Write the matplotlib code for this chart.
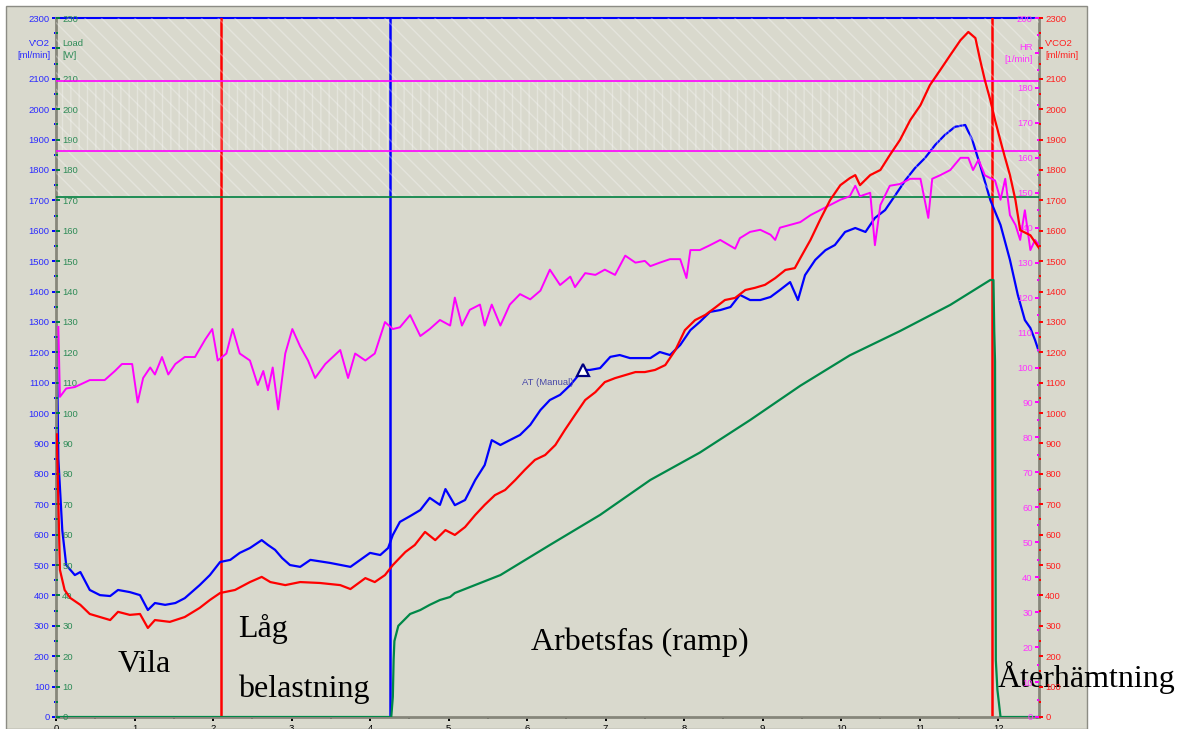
import matplotlib.pyplot as plt
from matplotlib.patches import Rectangle
from matplotlib.ticker import MultipleLocator, FuncFormatter

# breath-by-breath test data, time in minutes
vo2_t = [0.01, 0.03, 0.08, 0.13, 0.24, 0.31, 0.43, 0.56, 0.69, 0.79,
         0.94, 1.07, 1.17, 1.26, 1.39, 1.52, 1.64, 1.83, 1.96, 2.09,
         2.22, 2.34, 2.47, 2.62, 2.70, 2.79, 2.88, 2.98, 3.11, 3.24,
         3.49, 3.75, 4.00, 4.13, 4.23, 4.29, 4.38, 4.51, 4.64, 4.76,
         4.89, 4.96, 5.08, 5.21, 5.34, 5.46, 5.55, 5.66, 5.78, 5.91,
         6.04, 6.17, 6.29, 6.42, 6.55, 6.71, 6.80, 6.93, 7.06, 7.18,
         7.31, 7.44, 7.57, 7.69, 7.82, 7.95, 8.08, 8.20, 8.33, 8.46,
         8.59, 8.71, 8.84, 8.97, 9.10, 9.22, 9.35, 9.45, 9.54, 9.67,
         9.80, 9.92, 10.05, 10.18, 10.31, 10.43, 10.56, 10.69, 10.82, 10.94,
         11.07, 11.20, 11.32, 11.45, 11.58, 11.67, 11.77, 11.90, 12.03, 12.15,
         12.25, 12.34, 12.41, 12.47, 12.52]
vo2 = [1240, 850, 615, 500, 467, 477, 418, 401, 398, 418,
       411, 401, 352, 375, 369, 375, 391, 434, 467, 510,
       517, 540, 556, 582, 566, 550, 523, 500, 494, 517,
       507, 494, 540, 533, 556, 599, 642, 661, 681, 721,
       698, 750, 697, 714, 780, 829, 911, 895, 911, 928,
       961, 1010, 1043, 1060, 1092, 1142, 1142, 1148, 1185, 1191,
       1181, 1181, 1181, 1201, 1191, 1224, 1273, 1300, 1333, 1339,
       1349, 1389, 1372, 1372, 1382, 1405, 1431, 1372, 1454, 1504,
       1536, 1553, 1596, 1609, 1596, 1642, 1668, 1717, 1767, 1806,
       1840, 1883, 1915, 1942, 1948, 1899, 1816, 1701, 1619, 1504,
       1389, 1306, 1280, 1240, 1201]

vco2_t = [0.01, 0.05, 0.11, 0.18, 0.31, 0.43, 0.56, 0.69, 0.79, 0.94,
          1.07, 1.17, 1.26, 1.45, 1.64, 1.83, 1.96, 2.09, 2.28, 2.47,
          2.62, 2.73, 2.92, 3.11, 3.36, 3.62, 3.75, 3.94, 4.06, 4.19,
          4.29, 4.45, 4.57, 4.70, 4.83, 4.96, 5.08, 5.21, 5.34, 5.46,
          5.59, 5.72, 5.85, 5.97, 6.10, 6.23, 6.36, 6.48, 6.61, 6.74,
          6.87, 6.99, 7.12, 7.25, 7.38, 7.50, 7.63, 7.76, 7.89, 8.01,
          8.14, 8.27, 8.39, 8.52, 8.65, 8.78, 8.90, 9.03, 9.16, 9.29,
          9.41, 9.48, 9.61, 9.73, 9.86, 9.99, 10.11, 10.18, 10.24, 10.37,
          10.50, 10.62, 10.75, 10.88, 11.01, 11.13, 11.26, 11.39, 11.52, 11.62,
          11.71, 11.77, 11.83, 11.90, 11.96, 12.06, 12.15, 12.22, 12.28, 12.41,
          12.52]
vco2 = [930, 484, 418, 392, 369, 339, 329, 319, 346, 336,
        339, 293, 319, 313, 329, 359, 385, 408, 418, 444,
        461, 444, 434, 444, 441, 434, 421, 457, 444, 467,
        500, 543, 566, 609, 582, 615, 599, 625, 665, 698,
        730, 747, 780, 813, 846, 862, 895, 944, 994, 1043,
        1069, 1102, 1115, 1125, 1135, 1135, 1142, 1158, 1208, 1273,
        1306, 1323, 1346, 1372, 1379, 1405, 1412, 1422, 1444, 1471,
        1477, 1510, 1570, 1635, 1701, 1750, 1773, 1783, 1750, 1783,
        1800, 1849, 1899, 1964, 2013, 2079, 2128, 2178, 2227, 2254,
        2234, 2162, 2096, 2030, 1964, 1866, 1783, 1701, 1602, 1585,
        1543]

hr_t = [0.03, 0.05, 0.13, 0.24, 0.43, 0.62, 0.75, 0.84, 0.97, 1.04,
        1.11, 1.20, 1.26, 1.35, 1.43, 1.52, 1.64, 1.77, 1.90, 1.99,
        2.06, 2.17, 2.25, 2.34, 2.47, 2.57, 2.64, 2.70, 2.76, 2.83,
        2.92, 3.01, 3.11, 3.21, 3.30, 3.43, 3.62, 3.72, 3.81, 3.94,
        4.06, 4.19, 4.29, 4.38, 4.51, 4.64, 4.76, 4.89, 5.02, 5.08,
        5.17, 5.27, 5.40, 5.46, 5.55, 5.66, 5.78, 5.91, 6.04, 6.17,
        6.29, 6.42, 6.55, 6.61, 6.74, 6.87, 6.99, 7.12, 7.25, 7.38,
        7.50, 7.57, 7.69, 7.82, 7.95, 8.03, 8.08, 8.20, 8.33, 8.46,
        8.65, 8.71, 8.84, 8.97, 9.10, 9.16, 9.22, 9.35, 9.48, 9.61,
        9.73, 9.86, 9.99, 10.11, 10.18, 10.24, 10.37, 10.43, 10.50, 10.62,
        10.75, 10.88, 11.01, 11.11, 11.16, 11.26, 11.39, 11.52, 11.62, 11.68,
        11.75, 11.83, 11.96, 12.03, 12.09, 12.15, 12.22, 12.28, 12.34, 12.41,
        12.47, 12.52]
hr = [111.6, 91.6, 94, 94.4, 96.4, 96.4, 99, 101, 101, 90,
      97, 100, 98, 103, 98, 101, 103, 103, 108, 111,
      102, 104, 111, 104, 102, 95, 99, 93.5, 100, 88,
      104, 111, 106, 102, 97, 101, 105, 97, 104, 102,
      104, 113, 111, 111.5, 115, 109, 111, 113.6, 112, 120,
      112, 116.5, 118, 112, 118, 112, 118, 121, 119.5, 122,
      128, 123.6, 126, 123, 127, 126.5, 128, 126.5, 132, 130,
      130.5, 129, 130, 131, 131, 125.6, 133.6, 133.6, 135, 136.5,
      134, 137, 138.8, 139.4, 138, 136.5, 140, 140.8, 141.6, 143.6,
      145, 146.5, 148, 149, 152, 149, 150, 135, 146.5, 152,
      152.5, 154, 154, 142.8, 154, 155, 156.5, 160, 160, 156.5,
      159.5, 155, 153.5, 148, 154, 143.6, 140.8, 136.5, 145, 133.6,
      136.5, 135]

load_t = [0, 4.27, 4.29, 4.30, 4.31, 4.36, 4.41, 4.51, 4.64, 4.76,
          4.89, 5.02, 5.08, 5.66, 6.29, 6.93, 7.57, 8.20, 8.84, 9.48,
          10.11, 10.75, 11.39, 11.90, 11.94, 11.95, 11.96, 11.97, 11.99, 12.03,
          12.52]
load = [0, 0, 6.6, 18.8, 25, 30, 31.3, 33.9, 35.2, 36.9,
        38.5, 39.5, 40.8, 46.7, 56.6, 66.5, 78, 87, 97.7, 109,
        119, 127, 135.6, 143.8, 143.8, 127, 117, 18.7, 9, 0,
        0]

# phase borders (min) and threshold marker
phase_t = [2.10, 4.26, 11.92]
phase_colors = ['#ff0000', '#0000ff', '#ff0000']
at_t, at_vo2 = 6.71, 1142
hr_band = [162, 182]
load_limit = 171

W, H = 1177, 729
bg = '#d9d9cd'
plt.rcParams['font.family'] = 'Liberation Sans'

fig = plt.figure(figsize=(W / 100, H / 100), dpi=100)
fig.patch.set_facecolor('white')
fig.add_artist(Rectangle((6 / W, 0), (1087 - 6) / W, (H - 6) / H,
                         transform=fig.transFigure, facecolor=bg,
                         edgecolor='#8c8c84', lw=1.0, zorder=0))

ax = fig.add_axes([56 / W, 12 / H, (1039 - 56) / W, (717 - 18) / H])
ax.set_facecolor('none')
ax.set_xlim(0, 12.52)
ax.set_ylim(0, 2300)

ax_load = ax.twinx()
ax_load.set_ylim(0, 230)
ax_hr = ax.twinx()
ax_hr.set_ylim(0, 200)
ax_co2 = ax.twinx()
ax_co2.set_ylim(0, 2300)

for a in (ax, ax_load, ax_hr, ax_co2):
    for s in a.spines.values():
        s.set_visible(False)
for side in ('left', 'right', 'bottom'):
    ax.spines[side].set_visible(True)
    ax.spines[side].set_color('#86867a')
    ax.spines[side].set_linewidth(2)

tick_kw = dict(length=3, width=1.4, pad=1.5, labelsize=6.8)
minor_kw = dict(length=1.4, width=1.4)


def skip(value):
    # leave room for the unit titles near the top
    return FuncFormatter(lambda v, pos: '' if abs(v - value) < 1e-6 else f'{v:.0f}')


# V'O2 on the left, labels outside
ax.yaxis.set_major_locator(MultipleLocator(100))
ax.yaxis.set_minor_locator(MultipleLocator(50))
ax.yaxis.set_major_formatter(skip(2200))
ax.tick_params(axis='y', which='major', color='#0000ff', labelcolor='#2a2aff', **tick_kw)
ax.tick_params(axis='y', which='minor', color='#0000ff', **minor_kw)

# load shares the left spine, ticks point inwards
ax_load.spines['right'].set_position(('axes', 0))
ax_load.yaxis.set_major_locator(MultipleLocator(10))
ax_load.yaxis.set_minor_locator(MultipleLocator(5))
ax_load.yaxis.set_major_formatter(skip(220))
ax_load.tick_params(axis='y', which='major', color='#008040', labelcolor='#2e8b57', **tick_kw)
ax_load.tick_params(axis='y', which='minor', color='#008040', **minor_kw)

# HR sits on the right spine, labels inside
ax_hr.yaxis.tick_left()
ax_hr.spines['left'].set_position(('axes', 1))
ax_hr.yaxis.set_major_locator(MultipleLocator(10))
ax_hr.yaxis.set_minor_locator(MultipleLocator(5))
ax_hr.yaxis.set_major_formatter(skip(190))
ax_hr.tick_params(axis='y', which='major', color='#ff00ff', labelcolor='#ff33ff', **tick_kw)
ax_hr.tick_params(axis='y', which='minor', color='#ff00ff', **minor_kw)

ax_co2.yaxis.set_major_locator(MultipleLocator(100))
ax_co2.yaxis.set_minor_locator(MultipleLocator(50))
ax_co2.yaxis.set_major_formatter(skip(2200))
ax_co2.tick_params(axis='y', which='major', color='#ff0000', labelcolor='#ff2020', **tick_kw)
ax_co2.tick_params(axis='y', which='minor', color='#ff0000', **minor_kw)

ax.xaxis.set_major_locator(MultipleLocator(1))
ax.xaxis.set_minor_locator(MultipleLocator(0.5))
ax.tick_params(axis='x', which='major', color='black', labelcolor='black',
               length=3, width=1.4, pad=2, labelsize=6.8)
ax.tick_params(axis='x', which='minor', color='black', length=1.4, width=1.4)

# hatched limit zones
ax_load.axhspan(load_limit, 230, facecolor='none', edgecolor=(1, 1, 1, 0.3),
                hatch='\\\\', lw=0, zorder=0)
ax_hr.axhspan(hr_band[0], hr_band[1], facecolor='none', edgecolor=(1, 1, 1, 0.3),
              hatch='||', lw=0, zorder=0)

ax.axhline(2300, color='#0000ff', lw=1.5, clip_on=False)
ax_load.axhline(load_limit, color='#008040', lw=1.2)
for v in hr_band:
    ax_hr.axhline(v, color='#ff00ff', lw=1.2)

for t, c in zip(phase_t, phase_colors):
    ax.axvline(t, color=c, lw=1.8)

ax_load.plot(load_t, load, color='#008848', lw=1.6)
ax.plot(vo2_t, vo2, color='#0000ff', lw=1.6)
ax_hr.plot(hr_t, hr, color='#ff00ff', lw=1.4)
ax_co2.plot(vco2_t, vco2, color='#ff0000', lw=1.6)

ax.plot([at_t], [at_vo2], marker='^', ms=9, mfc='white', mec='#000080', mew=1.6, zorder=5)
ax.text(5.94, 1099, 'AT (Manual)', color='#4848a8', fontsize=6.8, ha='left', va='center')


# axis titles
def fig_label(x, y, s, color, ha):
    fig.text(x / W, 1 - y / H, s, color=color, fontsize=6.8, ha=ha, va='center')


fig_label(50, 43, "V'O2", '#2a2aff', 'right')
fig_label(50, 55, '[ml/min]', '#2a2aff', 'right')
fig_label(62, 43, 'Load', '#2e8b57', 'left')
fig_label(62, 55, '[W]', '#2e8b57', 'left')
fig_label(1033, 47, 'HR', '#ff33ff', 'right')
fig_label(1033, 60, '[1/min]', '#ff33ff', 'right')
fig_label(1045, 43, "V'CO2", '#ff2020', 'left')
fig_label(1045, 55, '[ml/min]', '#ff2020', 'left')

# phase names
phase_kw = dict(family='Liberation Serif', fontsize=23, color='black', va='baseline', ha='left')
ax.text(0.78, 148, 'Vila', **phase_kw)
ax.text(2.32, 263, 'Låg', **phase_kw)
ax.text(2.32, 66, 'belastning', **phase_kw)
ax.text(6.05, 222, 'Arbetsfas (ramp)', **phase_kw)
ax.text(11.99, 99, 'Återhämtning', **phase_kw)

fig.savefig('out.png', dpi=100)
